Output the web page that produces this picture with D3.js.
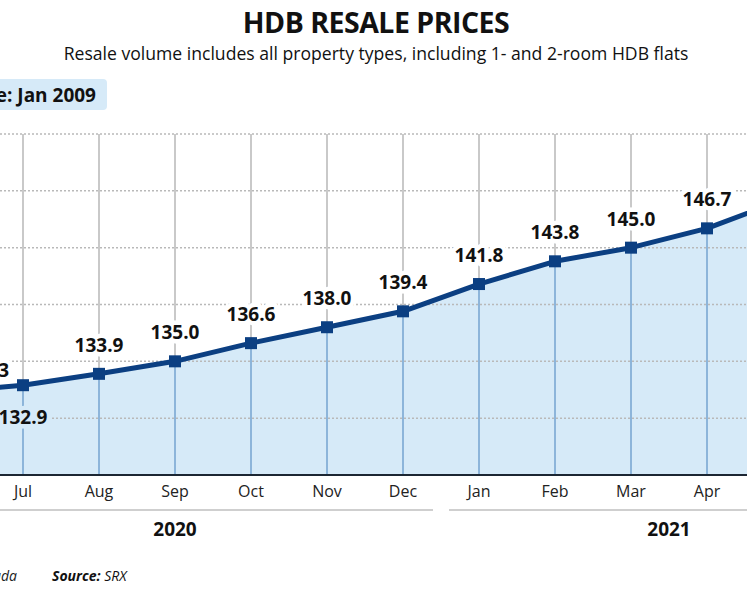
<!DOCTYPE html>
<html lang="en">
<head>
  <meta charset="UTF-8">
  <title>HDB Resale Prices</title>
  <style>
    body { margin: 0; background: #fff; overflow: hidden; }
    svg { display: block; font-family: "Open Sans", "Noto Sans", sans-serif; }
  </style>
</head>
<body>
  <script src="https://d3js.org/d3.v7.min.js"></script>
  <script>
    // months shown on the axis (Jun 2020 sits just off the left edge, Jun 2021 off the right)
    const months = ['Jun', 'Jul', 'Aug', 'Sep', 'Oct', 'Nov', 'Dec', 'Jan', 'Feb', 'Mar', 'Apr', 'May', 'Jun']
    const monthYears = [2020, 2020, 2020, 2020, 2020, 2020, 2020, 2021, 2021, 2021, 2021, 2021, 2021]
    // SRX HDB resale price index, base Jan 2009 = 100
    const indexValues = [132.3, 132.9, 133.9, 135.0, 136.6, 138.0, 139.4, 141.8, 143.8, 145.0, 146.7, 149.2]
    const years = [2020, 2021]
    const yTicks = [130, 135, 140, 145, 150, 155]

    const width = 747
    const height = 598

    const svg = d3.select('body').append('svg')
      .attr('width', width)
      .attr('height', height)

    const keys = months.map((m, i) => m + ' ' + monthYears[i])
    const step = 76
    const x = d3.scalePoint()
      .domain(keys)
      .range([-53, -53 + step * (keys.length - 1)])

    const y = d3.scaleLinear()
      .domain([125, 155])
      .range([475, 134])

    const data = indexValues.map((v, i) => ({ key: keys[i], month: months[i], year: monthYears[i], value: v }))

    // title
    svg.append('text')
      .attr('x', 376).attr('y', 33)
      .attr('text-anchor', 'middle')
      .attr('font-size', 28.5).attr('font-weight', 700)
      .attr('letter-spacing', -0.5)
      .attr('fill', '#111')
      .text('HDB RESALE PRICES')

    svg.append('text')
      .attr('x', 376).attr('y', 60)
      .attr('text-anchor', 'middle')
      .attr('font-size', 17.6)
      .attr('fill', '#111')
      .text('Resale volume includes all property types, including 1- and 2-room HDB flats')

    // base note
    svg.append('rect')
      .attr('x', -60).attr('y', 79)
      .attr('width', 167).attr('height', 31)
      .attr('rx', 4)
      .attr('fill', '#d6eaf8')
    svg.append('text')
      .attr('x', 96).attr('y', 101.5)
      .attr('text-anchor', 'end')
      .attr('font-size', 19).attr('font-weight', 700)
      .attr('fill', '#111')
      .text('Base: Jan 2009')

    // vertical gridlines (gray above the area)
    svg.append('g')
      .selectAll('line')
      .data(keys)
      .join('line')
      .attr('x1', d => x(d)).attr('x2', d => x(d))
      .attr('y1', y(155)).attr('y2', y(125))
      .attr('stroke', '#c9c9c9')
      .attr('stroke-width', 2)

    // area
    const area = d3.area()
      .x(d => x(d.key))
      .y0(y(125))
      .y1(d => y(d.value))
    svg.append('path')
      .datum(data)
      .attr('d', area)
      .attr('fill', '#d6eaf8')

    // vertical gridlines inside the area are blue
    svg.append('g')
      .selectAll('line')
      .data(data)
      .join('line')
      .attr('x1', d => x(d.key)).attr('x2', d => x(d.key))
      .attr('y1', d => y(d.value)).attr('y2', y(125))
      .attr('stroke', '#8db5da')
      .attr('stroke-width', 2)

    // horizontal dotted gridlines
    svg.append('g')
      .selectAll('line')
      .data(yTicks)
      .join('line')
      .attr('x1', 0).attr('x2', width)
      .attr('y1', d => y(d)).attr('y2', d => y(d))
      .attr('stroke', '#b9b9b9')
      .attr('stroke-width', 1.5)
      .attr('stroke-dasharray', '2,2')

    // baseline
    svg.append('line')
      .attr('x1', 0).attr('x2', width)
      .attr('y1', y(125)).attr('y2', y(125))
      .attr('stroke', '#1c2633')
      .attr('stroke-width', 2)

    // value labels, with a halo that matches whatever sits behind them
    svg.append('g')
      .selectAll('text')
      .data(data)
      .join('text')
      .attr('font-size', 19).attr('font-weight', 700)
      .attr('fill', '#111')
      .attr('stroke-width', 9)
      .attr('stroke-linejoin', 'round')
      .attr('paint-order', 'stroke')
      .text(d => d.value.toFixed(1))
      .each(function (d, i) {
        const t = d3.select(this)
        if (i === 0) {
          // first label is squeezed in left of the Jul gridline
          t.attr('x', x(keys[1]) - 14).attr('y', y(d.value) - 15)
            .attr('text-anchor', 'end').attr('stroke', '#fff')
        } else if (i === 1) {
          t.attr('x', x(d.key)).attr('y', y(d.value) + 39)
            .attr('text-anchor', 'middle').attr('stroke', '#d6eaf8')
        } else {
          t.attr('x', x(d.key)).attr('y', y(d.value) - 22)
            .attr('text-anchor', 'middle').attr('stroke', '#fff')
        }
      })

    // line + markers
    const line = d3.line()
      .x(d => x(d.key))
      .y(d => y(d.value))
    svg.append('path')
      .datum(data)
      .attr('d', line)
      .attr('fill', 'none')
      .attr('stroke', '#0b3f82')
      .attr('stroke-width', 5)
      .attr('stroke-linejoin', 'round')

    const m = 12
    svg.append('g')
      .selectAll('rect')
      .data(data)
      .join('rect')
      .attr('x', d => x(d.key) - m / 2)
      .attr('y', d => y(d.value) - m / 2)
      .attr('width', m).attr('height', m)
      .attr('fill', '#0b3f82')

    // month axis labels
    svg.append('g')
      .selectAll('text')
      .data(keys)
      .join('text')
      .attr('x', d => x(d))
      .attr('y', 497)
      .attr('text-anchor', 'middle')
      .attr('font-size', 16)
      .attr('fill', '#222')
      .text((d, i) => months[i])

    // year brackets
    const yearG = svg.append('g')
      .selectAll('g')
      .data(years)
      .join('g')
    yearG.each(function (yr) {
      const ks = keys.filter((k, i) => monthYears[i] === yr)
      const x0 = x(ks[0]) - step / 2 + 8
      const x1 = x(ks[ks.length - 1]) + step / 2 - 8
      const g = d3.select(this)
      g.append('line')
        .attr('x1', x0).attr('x2', x1)
        .attr('y1', 510).attr('y2', 510)
        .attr('stroke', '#cfcfcf')
        .attr('stroke-width', 2)
      g.append('text')
        .attr('x', (x0 + x1) / 2)
        .attr('y', 536)
        .attr('text-anchor', 'middle')
        .attr('font-size', 19).attr('font-weight', 700)
        .attr('fill', '#111')
        .text(yr)
    })

    // credits
    svg.append('text')
      .attr('x', 17).attr('y', 581)
      .attr('text-anchor', 'end')
      .attr('font-size', 14).attr('font-style', 'italic')
      .attr('fill', '#222')
      .text('ada')

    const src = svg.append('text')
      .attr('x', 52).attr('y', 581)
      .attr('font-size', 14).attr('font-style', 'italic')
      .attr('fill', '#111')
    src.append('tspan').attr('font-weight', 700).text('Source: ')
    src.append('tspan').text('SRX')
  </script>
</body>
</html>
